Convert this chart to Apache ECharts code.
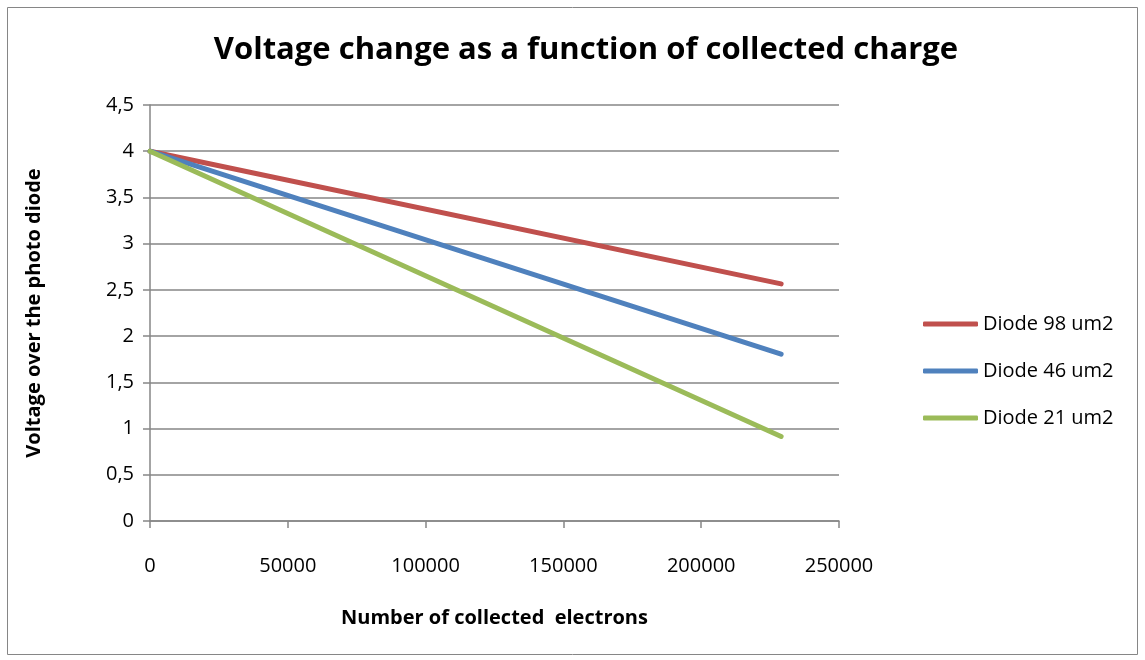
<!DOCTYPE html>
<html>
<head>
<meta charset="utf-8">
<script src="https://cdn.jsdelivr.net/npm/echarts@6/dist/echarts.min.js"></script>
<style>
  html, body { margin: 0; padding: 0; background: #fff; }
  #chart { width: 1145px; height: 660px; }
</style>
</head>
<body>
<div id="chart"></div>
<script>
// Collected electrons (x) and photodiode voltage (y) for each diode size
const electrons = [0, 229000];
const diode98 = [4, 2.565];
const diode46 = [4, 1.805];
const diode21 = [4, 0.915];
const seriesNames = ['Diode 98 um2', 'Diode 46 um2', 'Diode 21 um2'];
const seriesColors = ['#C0504D', '#4F81BD', '#9BBB59'];

const font = '"Open Sans", "Liberation Sans", sans-serif';

function pairs(ys) {
  return electrons.map((x, i) => [x, ys[i]]);
}

const chart = echarts.init(document.getElementById('chart'));

chart.setOption({
  animation: false,
  backgroundColor: '#ffffff',
  title: {
    text: 'Voltage change as a function of collected charge',
    left: 581,
    textAlign: 'center',
    top: 30,
    textStyle: { fontFamily: font, fontSize: 31, fontWeight: 'bold', color: '#000' }
  },
  graphic: [{
    type: 'rect',
    shape: { x: 7.5, y: 7.5, width: 1130, height: 647 },
    style: { fill: 'none', stroke: '#868686', lineWidth: 1 },
    silent: true
  }],
  grid: { left: 150, top: 105, width: 689, height: 416, containLabel: false },
  legend: {
    orient: 'vertical',
    left: 918,
    top: 307,
    itemWidth: 55,
    itemHeight: 5,
    itemGap: 23,
    icon: 'roundRect',
    textStyle: { fontFamily: font, fontSize: 20, color: '#000', lineHeight: 24 },
    data: seriesNames
  },
  xAxis: {
    type: 'value',
    min: 0,
    max: 250000,
    interval: 50000,
    name: 'Number of collected  electrons',
    nameLocation: 'middle',
    nameGap: 87,
    nameTextStyle: { fontFamily: font, fontSize: 20, fontWeight: 'bold', color: '#000' },
    axisLine: { show: true, lineStyle: { color: '#868686', width: 1.5 } },
    axisTick: { show: true, length: 7, inside: false, lineStyle: { color: '#868686', width: 1.5 } },
    axisLabel: { margin: 35, fontFamily: font, fontSize: 20, color: '#000', formatter: v => String(v) },
    splitLine: { show: false }
  },
  yAxis: {
    type: 'value',
    min: 0,
    max: 4.5,
    interval: 0.5,
    name: 'Voltage over the photo diode',
    nameLocation: 'middle',
    nameGap: 106,
    nameRotate: 90,
    nameTextStyle: { fontFamily: font, fontSize: 20, fontWeight: 'bold', color: '#000' },
    axisLine: { show: true, lineStyle: { color: '#868686', width: 1.5 } },
    axisTick: { show: true, length: 7, inside: false, lineStyle: { color: '#868686', width: 1.5 } },
    axisLabel: {
      margin: 16,
      fontFamily: font,
      fontSize: 20,
      color: '#000',
      formatter: v => String(v).replace('.', ',')
    },
    splitLine: { show: true, lineStyle: { color: '#868686', width: 1.5 } }
  },
  series: [diode98, diode46, diode21].map((ys, i) => ({
    name: seriesNames[i],
    type: 'line',
    data: pairs(ys),
    showSymbol: false,
    symbol: 'none',
    color: seriesColors[i],
    lineStyle: { width: 5, color: seriesColors[i], cap: 'round' }
  }))
});
</script>
</body>
</html>
